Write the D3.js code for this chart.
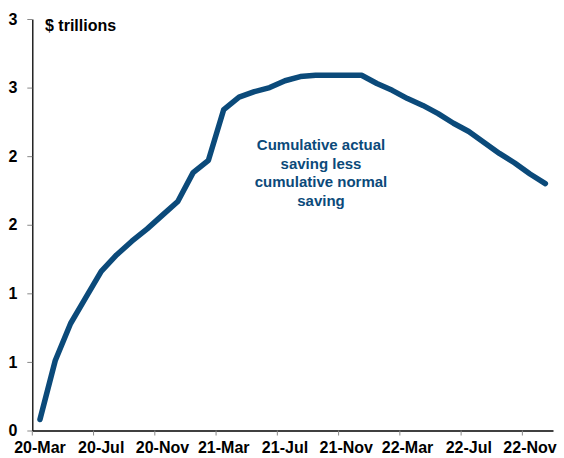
<!DOCTYPE html>
<html>
<head>
<meta charset="utf-8">
<script src="https://cdn.jsdelivr.net/npm/d3@7"></script>
<style>
  html, body { margin: 0; padding: 0; background: #fff; }
  svg { display: block; font-family: "Liberation Sans", Arial, sans-serif; }
  .axis text { font-size: 16px; font-weight: bold; fill: #000; }
  .axis .domain { stroke: #000; stroke-width: 1.3; }
  .axis .tick line { stroke: #888; }
</style>
</head>
<body>
<svg id="chart" width="564" height="458"></svg>
<script>
// monthly categories, Mar 2020 - Dec 2022
const months = d3.timeMonth.range(new Date(2020, 2, 1), new Date(2023, 0, 1));

// cumulative actual saving less cumulative normal saving ($ trillions)
const excessSaving = [
  0.08, 0.51, 0.78, 0.97, 1.16, 1.28, 1.38, 1.47, 1.57, 1.67,
  1.88, 1.97, 2.34, 2.43, 2.47, 2.50, 2.55, 2.58, 2.59, 2.59,
  2.59, 2.59, 2.53, 2.48, 2.42, 2.37, 2.31, 2.24, 2.18, 2.10,
  2.02, 1.95, 1.87, 1.80
];

const yTicks = [0, 0.5, 1, 1.5, 2, 2.5, 3];
const yTickLabels = ["0", "1", "1", "2", "2", "3", "3"];
const xTickLabels = ["20-Mar", "20-Jul", "20-Nov", "21-Mar", "21-Jul", "21-Nov", "22-Mar", "22-Jul", "22-Nov"];

const svg = d3.select("#chart");
const plotL = 32.3, plotR = 553, plotT = 19, plotB = 430.5;
const lineColor = "#0b4a7a";

const x = d3.scaleBand().domain(months).range([plotL, plotR]).padding(0);
const y = d3.scaleLinear().domain([0, 3]).range([plotB, plotT]);

// x axis: tick marks on category boundaries, labels centred on categories
const xTickVals = months.filter((d, i) => i % 4 === 0);
const xAxis = d3.axisBottom(x)
  .tickValues(xTickVals)
  .tickFormat((d, i) => xTickLabels[i])
  .tickSize(5).tickSizeOuter(0).tickPadding(6);

const gx = svg.append("g").attr("class", "axis x-axis")
  .attr("transform", `translate(0,${plotB})`)
  .call(xAxis);
gx.selectAll(".tick line").attr("transform", `translate(${-x.bandwidth() / 2},0)`);

const yAxis = d3.axisLeft(y)
  .tickValues(yTicks)
  .tickFormat((d, i) => yTickLabels[i])
  .tickSize(5).tickSizeOuter(0).tickPadding(10);

svg.append("g").attr("class", "axis y-axis")
  .attr("transform", `translate(${plotL},0)`)
  .call(yAxis);

svg.append("text")
  .attr("x", 45).attr("y", 31)
  .style("font-size", "16px").style("font-weight", "bold")
  .text("$ trillions");

const line = d3.line()
  .x((d, i) => x(months[i]) + x.bandwidth() / 2)
  .y(d => y(d));

svg.append("path")
  .datum(excessSaving)
  .attr("fill", "none")
  .attr("stroke", lineColor)
  .attr("stroke-width", 5.5)
  .attr("stroke-linejoin", "round")
  .attr("stroke-linecap", "round")
  .attr("d", line);

const note = ["Cumulative actual", "saving less", "cumulative normal", "saving"];
svg.append("text")
  .attr("text-anchor", "middle")
  .style("font-size", "15px").style("font-weight", "bold")
  .attr("fill", lineColor)
  .selectAll("tspan").data(note).join("tspan")
  .attr("x", 321)
  .attr("y", (d, i) => 150 + i * 18.5)
  .text(d => d);
</script>
</body>
</html>
